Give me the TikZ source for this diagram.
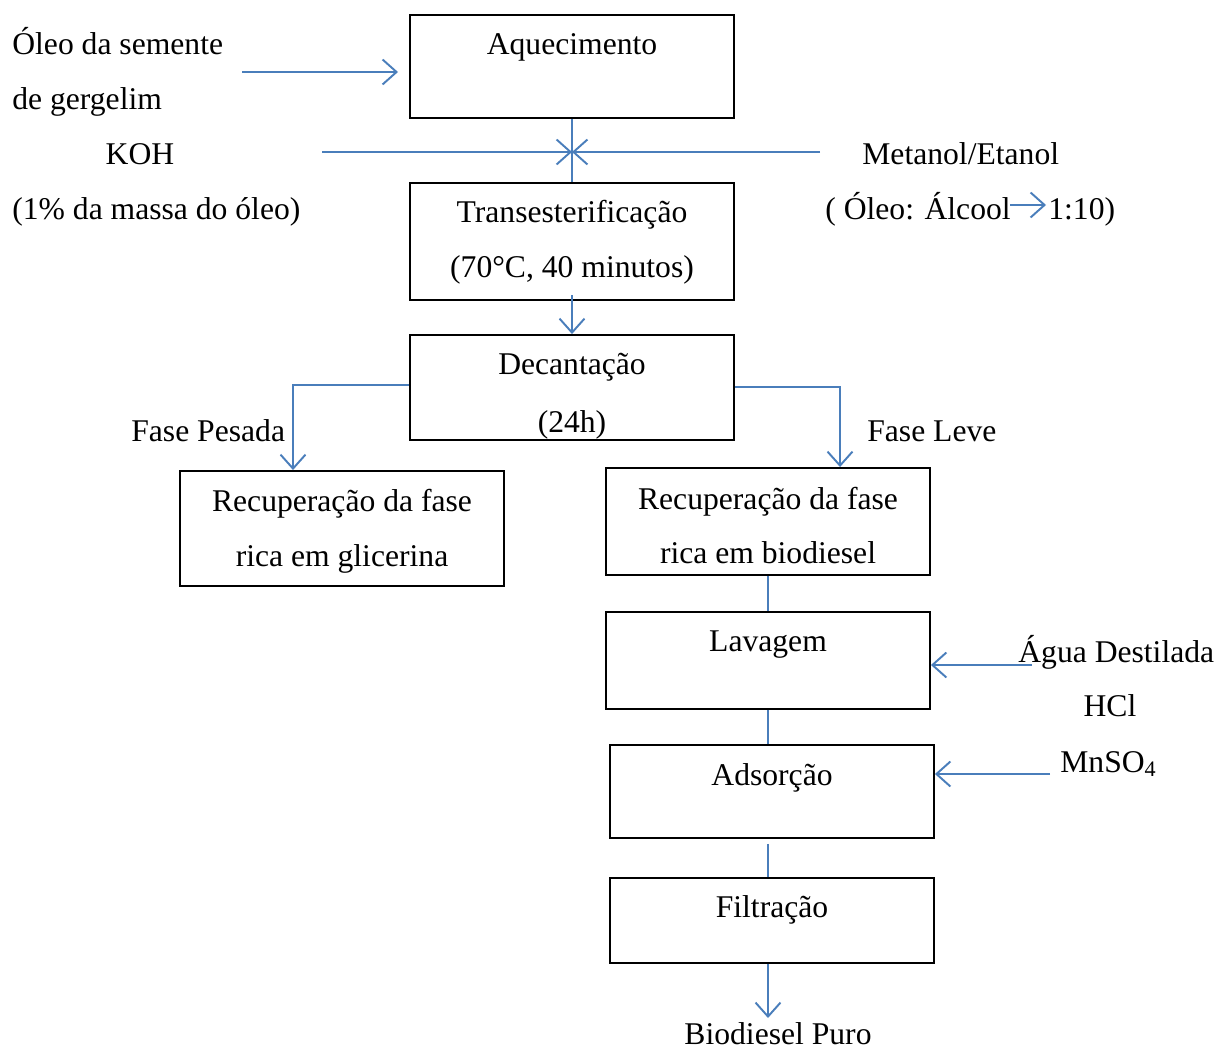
\documentclass[tikz,border=0pt]{standalone}
\usepackage{fontspec}
\setmainfont{Liberation Serif}
\usetikzlibrary{arrows.meta}
\definecolor{lineblue}{HTML}{4A7EBB}
\begin{document}
\begin{tikzpicture}[x=0.02cm,y=-0.02cm,
  font=\fontsize{18}{22}\selectfont,
  box/.style={draw=black,line width=1.1pt,inner sep=0pt,minimum width=6.48cm},
  txt/.style={inner sep=0pt,anchor=base},
  ltxt/.style={inner sep=0pt,anchor=base west},
  conn/.style={draw=lineblue,line width=1.1pt},
  arr/.style={conn,-{Straight Barb[length=0.28cm,width=0.5cm,line width=1.1pt]}}]
\useasboundingbox (0,0) rectangle (1219,1050);
% boxes
\node[box,minimum height=2.06cm] (aq) at (572,66.5) {};
\node[box,minimum height=2.34cm] (tr) at (572,241.5) {};
\node[box,minimum height=2.1cm] (de) at (572,387.5) {};
\node[box,minimum height=2.3cm] (gl) at (342,528.5) {};
\node[box,minimum height=2.14cm] (bi) at (768,521.5) {};
\node[box,minimum height=1.94cm] (la) at (768,660.5) {};
\node[box,minimum height=1.86cm] (ad) at (772,791.5) {};
\node[box,minimum height=1.7cm] (fi) at (772,920.5) {};
% box texts
\node[txt] (taq) at (572,55) {Aquecimento};
\node[txt] (ttr1) at (572,223) {Transesterificação};
\node[txt] (ttr2) at (572,278) {(70°C, 40 minutos)};
\node[txt] (tde1) at (572,375) {Decantação};
\node[txt] (tde2) at (572,432) {(24h)};
\node[txt] (tgl1) at (342,511) {Recuperação da fase};
\node[txt] (tgl2) at (342,566) {rica em glicerina};
\node[txt] (tbi1) at (768,509) {Recuperação da fase};
\node[txt] (tbi2) at (768,563) {rica em biodiesel};
\node[txt] (tla) at (768,651) {Lavagem};
\node[txt] (tad) at (772,785) {Adsorção};
\node[txt] (tfi) at (772,917) {Filtração};
% outside labels
\node[ltxt] (oleo1) at (12,55) {Óleo da semente};
\node[ltxt] (oleo2) at (12,110) {de gergelim};
\node[txt] (koh) at (140,165) {KOH};
\node[ltxt] (koh2) at (12,220) {(1\% da massa do óleo)};
\node[ltxt] (met) at (862,165) {Metanol/Etanol};
\node[ltxt] (alc) at (825,220) {( Óleo: Álcool};
\node[ltxt] (rat) at (1048,220) {1:10)};
\node[ltxt] (pes) at (131,441) {Fase Pesada};
\node[ltxt] (lev) at (867,441) {Fase Leve};
\node[ltxt] (agua) at (1018,662) {Água Destilada};
\node[txt] (hcl) at (1110,716) {HCl};
\node[ltxt] (mn) at (1060,772) {MnSO\textsubscript{4}};
\node[txt] (puro) at (778,1044) {Biodiesel Puro};
% coordinates
\coordinate (oleoS) at (242,72);
\coordinate (aqW) at (398,72);
\coordinate (mix) at (572,152);
\coordinate (kohE) at (322,152);
\coordinate (metW) at (820,152);
\coordinate (trS) at (572,295);
\coordinate (deL) at (293,385);
\coordinate (deR) at (840,387);
\coordinate (x768) at (768,0);
\coordinate (puroN) at (768,1018);
\coordinate (aguaS) at (1032,665);
\coordinate (mnS) at (1050,774);
\coordinate (inA) at (1010,205);
\coordinate (inB) at (1046,205);
% connectors
\draw[arr] (oleoS) -- (aqW);
\draw[conn] (aq.south) -- (tr.north);
\draw[arr] (kohE) -- (mix);
\draw[arr] (metW) -- (mix);
\draw[arr] (trS) -- (de.north);
\draw[arr] (de.west |- deL) -- (deL) -- (deL |- gl.north);
\draw[arr] (de.east |- deR) -- (deR) -- (deR |- bi.north);
\draw[conn] (bi.south -| x768) -- (la.north -| x768);
\draw[conn] (la.south -| x768) -- (ad.north -| x768);
\draw[conn] ([yshift=-0.1cm]ad.south -| x768) -- (fi.north -| x768);
\draw[arr] (fi.south -| x768) -- (puroN);
\draw[arr] (aguaS) -- (la.east |- aguaS);
\draw[arr] (mnS) -- (ad.east |- mnS);
\draw[arr] (inA) -- (inB);
\end{tikzpicture}
\end{document}
